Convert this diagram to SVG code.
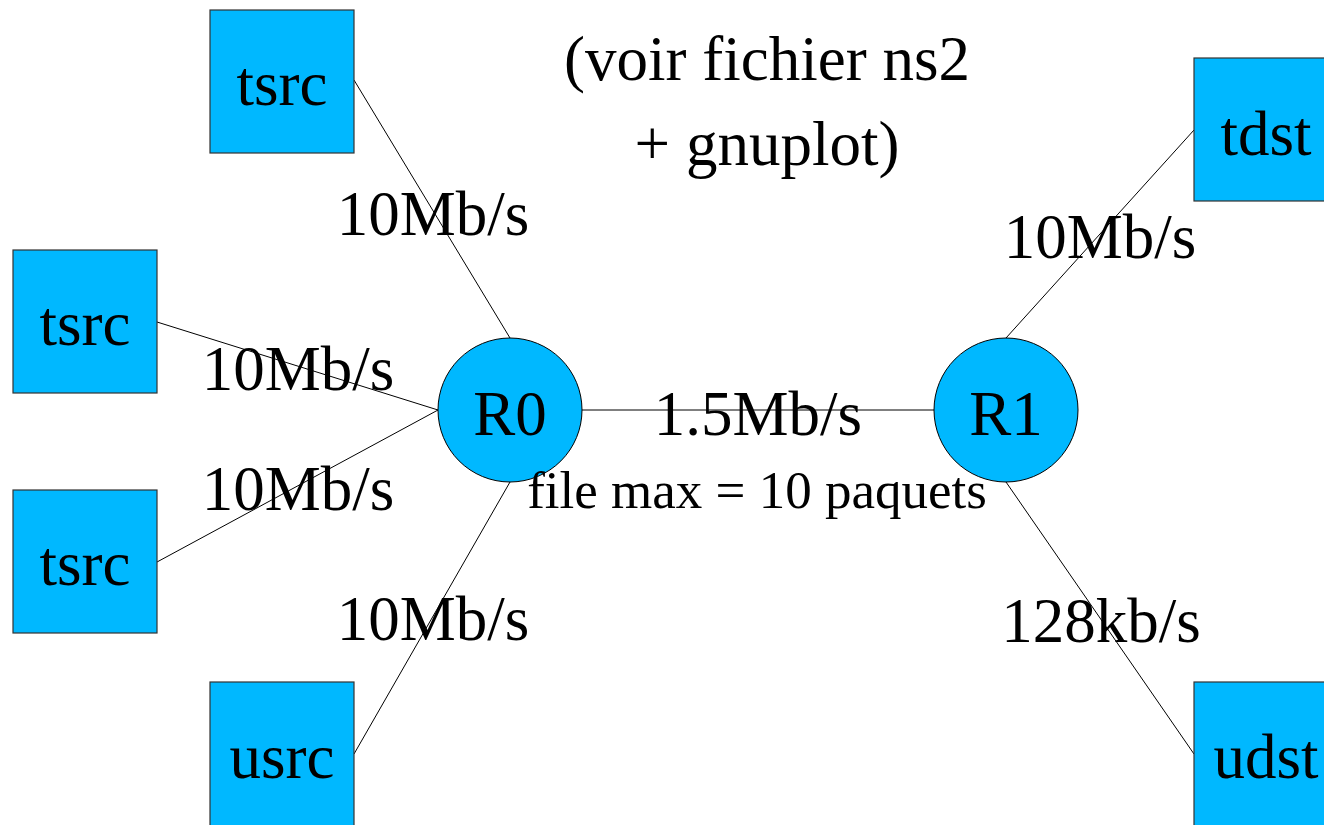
<svg xmlns="http://www.w3.org/2000/svg" width="1324" height="825" viewBox="0 0 1324 825">
<style>
.box{fill:#00b8ff;stroke:#333;stroke-width:1.2}
.rt{fill:#00b8ff;stroke:#000;stroke-width:1}
.t{font-family:"Liberation Serif","Times New Roman",serif;font-size:63px;fill:#000;text-anchor:middle}
.s{font-size:53px}
.e line{stroke:#000;stroke-width:1}
</style>
<rect width="1324" height="825" fill="#fff"/>
<g id="connectors" class="e">
<line x1="354" y1="80" x2="510" y2="338"/>
<line x1="157" y1="322" x2="438" y2="410"/>
<line x1="157" y1="562" x2="438" y2="410"/>
<line x1="354" y1="754" x2="510" y2="482"/>
<line x1="582" y1="410" x2="934" y2="410"/>
<line x1="1006" y1="338" x2="1194" y2="130"/>
<line x1="1006" y1="482" x2="1194" y2="754"/>
</g>
<g id="title">
<text class="t" x="767" y="80">(voir fichier ns2</text>
<text class="t" x="767" y="165">+ gnuplot)</text>
</g>
<g id="tsrc1"><rect class="box" x="210" y="10" width="144" height="143"/><text class="t" x="282" y="105">tsrc</text></g>
<g id="tsrc2"><rect class="box" x="13" y="250" width="144" height="143"/><text class="t" x="85" y="345">tsrc</text></g>
<g id="tsrc3"><rect class="box" x="13" y="490" width="144" height="143"/><text class="t" x="85" y="585">tsrc</text></g>
<g id="usrc"><rect class="box" x="210" y="682" width="144" height="150"/><text class="t" x="282" y="778">usrc</text></g>
<g id="tdst"><rect class="box" x="1194" y="58" width="144" height="143"/><text class="t" x="1266" y="155">tdst</text></g>
<g id="udst"><rect class="box" x="1194" y="682" width="144" height="150"/><text class="t" x="1266" y="778">udst</text></g>
<g id="R0"><circle class="rt" cx="510" cy="410" r="72"/><text class="t" x="510" y="435">R0</text></g>
<g id="R1"><circle class="rt" cx="1006" cy="410" r="72"/><text class="t" x="1006" y="435">R1</text></g>
<g id="labels">
<text class="t" x="433" y="235">10Mb/s</text>
<text class="t" x="298" y="390">10Mb/s</text>
<text class="t" x="298" y="510">10Mb/s</text>
<text class="t" x="433" y="640">10Mb/s</text>
<text class="t" x="758" y="435">1.5Mb/s</text>
<text class="t s" x="757" y="508">file max = 10 paquets</text>
<text class="t" x="1100" y="258">10Mb/s</text>
<text class="t" x="1101" y="642">128kb/s</text>
</g>
</svg>
